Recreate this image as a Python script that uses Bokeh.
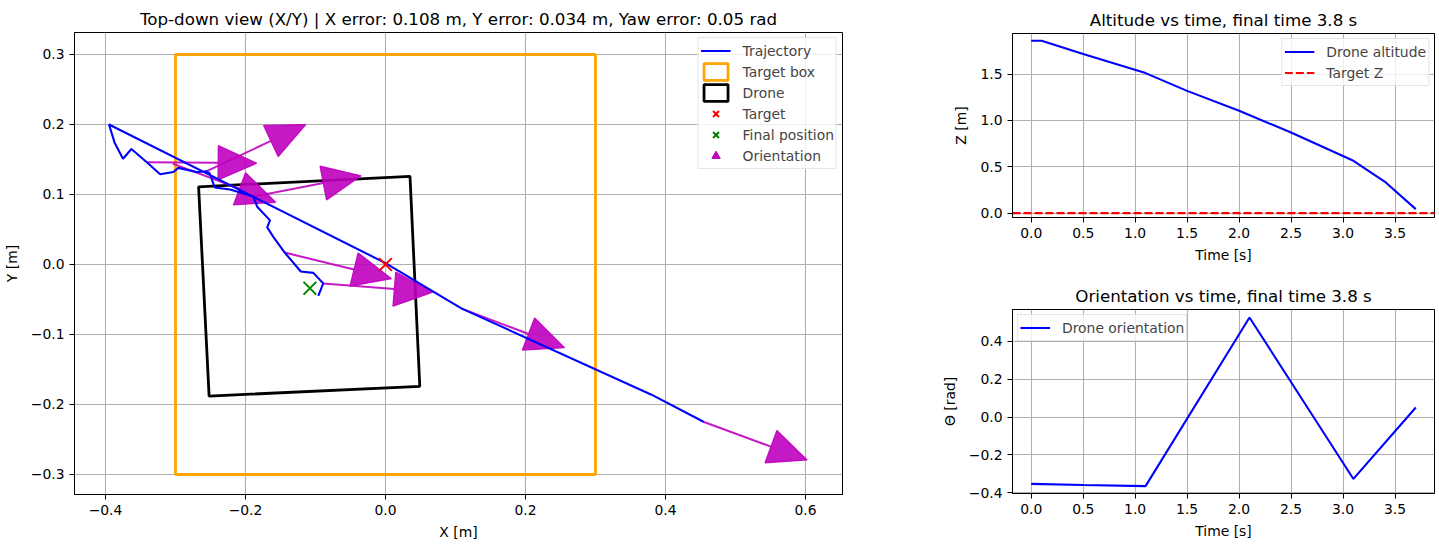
import numpy as np
from bokeh.plotting import figure
from bokeh.models import Range1d, FixedTicker, CustomJSTickFormatter, Legend, LegendItem
from bokeh.layouts import row, column
from bokeh.embed import file_html
from bokeh.resources import INLINE

FONT = "DejaVu Sans"
BLUE = "#0000FF"
MAG = "#BF00BF"

# ---------------- data ----------------
traj_x = [0.455, 0.380, 0.109, 0.000, -0.395, -0.387, -0.375, -0.363, -0.341, -0.322, -0.303,
          -0.296, -0.270, -0.256, -0.251, -0.244, -0.222, -0.189, -0.183, -0.165, -0.169,
          -0.160, -0.144, -0.121, -0.103, -0.089, -0.096]
traj_y = [-0.225, -0.186, -0.063, 0.002, 0.200, 0.174, 0.151, 0.165, 0.146, 0.129, 0.132,
          0.138, 0.132, 0.133, 0.130, 0.110, 0.107, 0.097, 0.082, 0.063, 0.053,
          0.039, 0.017, -0.010, -0.012, -0.027, -0.045]

target_box_x = [-0.3, 0.3, 0.3, -0.3]
target_box_y = [-0.3, -0.3, 0.3, 0.3]
drone_box_x = [-0.267, 0.035, 0.049, -0.252]
drone_box_y = [0.111, 0.126, -0.174, -0.188]
target_x = [0.0]
target_y = [0.0]
final_x = [-0.108]
final_y = [-0.034]

arrow_x = [0.455, -0.304, 0.109, -0.341, -0.256, -0.189, -0.144, -0.089]
arrow_y = [-0.225, 0.144, -0.063, 0.146, 0.133, 0.097, 0.017, -0.027]
arrow_yaw = [-0.353, -0.359, -0.364, -0.008, 0.44, 0.19, -0.24, -0.08]

alt_t = [0.0, 0.1, 0.5, 1.1, 1.5, 2.0, 2.5, 3.1, 3.4, 3.7]
alt_z = [1.861, 1.861, 1.717, 1.512, 1.320, 1.105, 0.870, 0.565, 0.341, 0.043]
target_z = 0.0

yaw_t = [0.0, 0.5, 1.1, 2.1, 3.1, 3.7]
yaw_v = [-0.353, -0.359, -0.365, 0.527, -0.327, 0.051]

xy_xticks = [-0.4, -0.2, 0.0, 0.2, 0.4, 0.6]
xy_yticks = [-0.3, -0.2, -0.1, 0.0, 0.1, 0.2, 0.3]
time_ticks = [0.0, 0.5, 1.0, 1.5, 2.0, 2.5, 3.0, 3.5]
alt_ticks = [0.0, 0.5, 1.0, 1.5]
yaw_ticks = [-0.4, -0.2, 0.0, 0.2, 0.4]

title_xy = "Top-down view (X/Y) | X error: 0.108 m, Y error: 0.034 m, Yaw error: 0.05 rad"
title_alt = "Altitude vs time, final time 3.8 s"
title_yaw = "Orientation vs time, final time 3.8 s"

# ---------------- styling helpers ----------------
FMT = CustomJSTickFormatter(code="""
const v = Math.abs(tick) < 1e-9 ? 0 : tick;
return v.toFixed(1).replace('-', '\u2212');
""")


def style(p, xticks, yticks, xlabel, ylabel):
    p.background_fill_color = "white"
    p.border_fill_color = "white"
    p.outline_line_color = "black"
    p.outline_line_width = 1
    p.xaxis.ticker = FixedTicker(ticks=xticks)
    p.yaxis.ticker = FixedTicker(ticks=yticks)
    p.xaxis.axis_label = xlabel
    p.yaxis.axis_label = ylabel
    for ax in (p.xaxis[0], p.yaxis[0]):
        ax.formatter = FMT
        ax.axis_line_color = "black"
        ax.major_tick_line_color = "black"
        ax.major_tick_out = 5
        ax.major_tick_in = 0
        ax.minor_tick_line_color = None
        ax.major_label_text_font = FONT
        ax.major_label_text_font_size = "13.9px"
        ax.major_label_text_color = "black"
        ax.major_label_standoff = 5
        ax.axis_label_text_font = FONT
        ax.axis_label_text_font_size = "13.9px"
        ax.axis_label_text_font_style = "normal"
        ax.axis_label_text_color = "black"
        ax.axis_label_standoff = 6
    p.yaxis[0].axis_label_standoff = 8
    p.grid.grid_line_color = "#b0b0b0"
    p.grid.grid_line_width = 1.1
    p.title.text_font = FONT
    p.title.text_font_size = "16.7px"
    p.title.text_font_style = "normal"
    p.title.text_color = "black"
    p.title.align = "center"
    p.title.standoff = 8


def make_legend(items, location):
    return Legend(items=items, location=location, margin=5, padding=2, spacing=0,
                  label_text_font=FONT, label_text_font_size="13.9px",
                  glyph_width=30, glyph_height=21, label_height=21, label_standoff=12,
                  border_line_color="#cccccc", border_line_width=1,
                  background_fill_color="white", background_fill_alpha=0.8)


# ---------------- top-down view ----------------
xr1 = Range1d(-0.4443, 0.6529)
yr1 = Range1d(-0.3286, 0.3314)
p1 = figure(frame_width=768, frame_height=462, x_range=xr1, y_range=yr1,
            output_backend="svg", toolbar_location=None, title=title_xy,
            min_border_left=73, min_border_right=96, min_border_top=32, min_border_bottom=53)
style(p1, xy_xticks, xy_yticks, "X [m]", "Y [m]")

r_tbox = p1.patch(target_box_x, target_box_y, fill_color=None, line_color="#FFA500", line_width=2.8)
r_dbox = p1.patch(drone_box_x, drone_box_y, fill_color=None, line_color="black", line_width=2.8)

# orientation arrows
L_TOTAL, HEAD_L, HEAD_W = 0.157, 0.055, 0.049
ax_ = np.array(arrow_x)
ay_ = np.array(arrow_y)
yaw = np.array(arrow_yaw)
ux, uy = np.cos(yaw), np.sin(yaw)
bx, by = ax_ + (L_TOTAL - HEAD_L) * ux, ay_ + (L_TOTAL - HEAD_L) * uy
tx, ty = ax_ + L_TOTAL * ux, ay_ + L_TOTAL * uy
px_, py_ = -uy * HEAD_W / 2, ux * HEAD_W / 2
p1.segment(ax_, ay_, bx, by, line_color=MAG, line_width=2, line_alpha=0.9)
head_xs = [[tx[i], bx[i] + px_[i], bx[i] - px_[i]] for i in range(len(ax_))]
head_ys = [[ty[i], by[i] + py_[i], by[i] - py_[i]] for i in range(len(ax_))]
p1.patches(head_xs, head_ys, fill_color=MAG, fill_alpha=0.9, line_color=MAG,
           line_alpha=0.9, line_width=1.3)
# legend-only proxy for the arrows (placed outside the visible frame)
r_orient = p1.scatter(x=[xr1.end + 1.0], y=[yr1.end + 1.0], marker="triangle",
                      size=8, fill_color=MAG, line_color=MAG)

r_traj = p1.line(traj_x, traj_y, line_color=BLUE, line_width=2.08)
r_target = p1.scatter(target_x, target_y, marker="x", size=18, line_color="#FF0000", line_width=2)
r_final = p1.scatter(final_x, final_y, marker="x", size=18, line_color="#008000", line_width=2)

leg1 = make_legend([
    LegendItem(label="Trajectory", renderers=[r_traj]),
    LegendItem(label="Target box", renderers=[r_tbox]),
    LegendItem(label="Drone", renderers=[r_dbox]),
    LegendItem(label="Target", renderers=[r_target]),
    LegendItem(label="Final position", renderers=[r_final]),
    LegendItem(label="Orientation", renderers=[r_orient]),
], "top_right")
p1.add_layout(leg1)

# ---------------- altitude ----------------
t_range = (-0.18, 3.88)
p2 = figure(frame_width=422, frame_height=184,
            x_range=Range1d(*t_range), y_range=Range1d(-0.0475, 1.9395),
            output_backend="svg", toolbar_location=None, title=title_alt,
            min_border_left=70, min_border_right=10, min_border_top=33, min_border_bottom=60)
style(p2, time_ticks, alt_ticks, "Time [s]", "Z [m]")
r_alt = p2.line(alt_t, alt_z, line_color=BLUE, line_width=2.08)
r_tz = p2.line([t_range[0], t_range[1]], [target_z, target_z], line_color="#FF0000",
               line_width=2.08, line_dash="8 3")
p2.add_layout(make_legend([
    LegendItem(label="Drone altitude", renderers=[r_alt]),
    LegendItem(label="Target Z", renderers=[r_tz]),
], "top_right"))

# ---------------- orientation ----------------
p3 = figure(frame_width=422, frame_height=184,
            x_range=Range1d(*t_range), y_range=Range1d(-0.404, 0.569),
            output_backend="svg", toolbar_location=None, title=title_yaw,
            min_border_left=70, min_border_right=10, min_border_top=32, min_border_bottom=54)
style(p3, time_ticks, yaw_ticks, "Time [s]", "\u0398 [rad]")
r_yaw = p3.line(yaw_t, yaw_v, line_color=BLUE, line_width=2.08)
p3.add_layout(make_legend([
    LegendItem(label="Drone orientation", renderers=[r_yaw]),
], "top_left"))

layout = row(p1, column(p2, p3))
open("out.html", "w").write(file_html(layout, INLINE))
